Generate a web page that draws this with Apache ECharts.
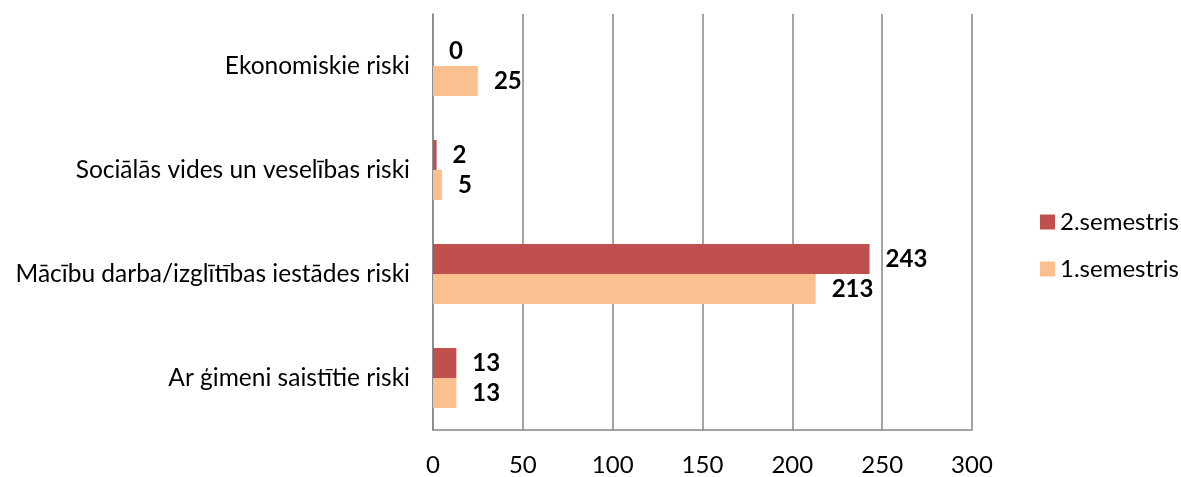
<!DOCTYPE html>
<html><head><meta charset="utf-8">
<script src="https://cdn.jsdelivr.net/npm/echarts@6/dist/echarts.min.js"></script>
<style>html,body{margin:0;padding:0;background:#fff}#c{width:1181px;height:477px}</style>
</head><body><div id="c"></div>
<script>
const categories = ["Ar ģimeni saistītie riski", "Mācību darba/izglītības iestādes riski", "Sociālās vides un veselības riski", "Ekonomiskie riski"];
const sem2 = [13, 243, 2, 0];
const sem1 = [13, 213, 5, 25];
const xTicks = [0, 50, 100, 150, 200, 250, 300];

const chart = echarts.init(document.getElementById('c'));
const font = 'Lato';
const lbl = {show: true, position: 'right', distance: 16, fontFamily: font, fontSize: 24, fontWeight: 'bold', color: '#000'};
chart.setOption({
  animation: false,
  textStyle: {fontFamily: font},
  grid: {left: 433, right: 209, top: 14, bottom: 45, containLabel: false},
  legend: {
    orient: 'vertical', left: 1035, top: 205, itemWidth: 15, itemHeight: 15, itemGap: 23, icon: 'rect',
    data: ['2.semestris', '1.semestris'],
    textStyle: {fontFamily: font, fontSize: 24, color: '#000'}
  },
  xAxis: {
    type: 'value', min: xTicks[0], max: xTicks[xTicks.length - 1], interval: 50,
    axisLine: {show: true, lineStyle: {color: '#868686', width: 1.5}},
    axisTick: {show: false},
    splitLine: {show: true, lineStyle: {color: '#868686', width: 1.5}},
    axisLabel: {fontFamily: font, fontSize: 24, color: '#000', margin: 23}
  },
  yAxis: {
    type: 'category', data: categories,
    axisLine: {show: true, lineStyle: {color: '#868686', width: 1.5}},
    axisTick: {show: false},
    axisLabel: {fontFamily: font, fontSize: 24.5, color: '#000', margin: 23}
  },
  series: [
    {name: '2.semestris', type: 'bar', data: sem2, barWidth: 30, barGap: '0%', itemStyle: {color: '#C0504D'}, label: lbl},
    {name: '1.semestris', type: 'bar', data: sem1, barWidth: 30, barGap: '0%', itemStyle: {color: '#FAC090'}, label: lbl}
  ]
});
</script></body></html>
